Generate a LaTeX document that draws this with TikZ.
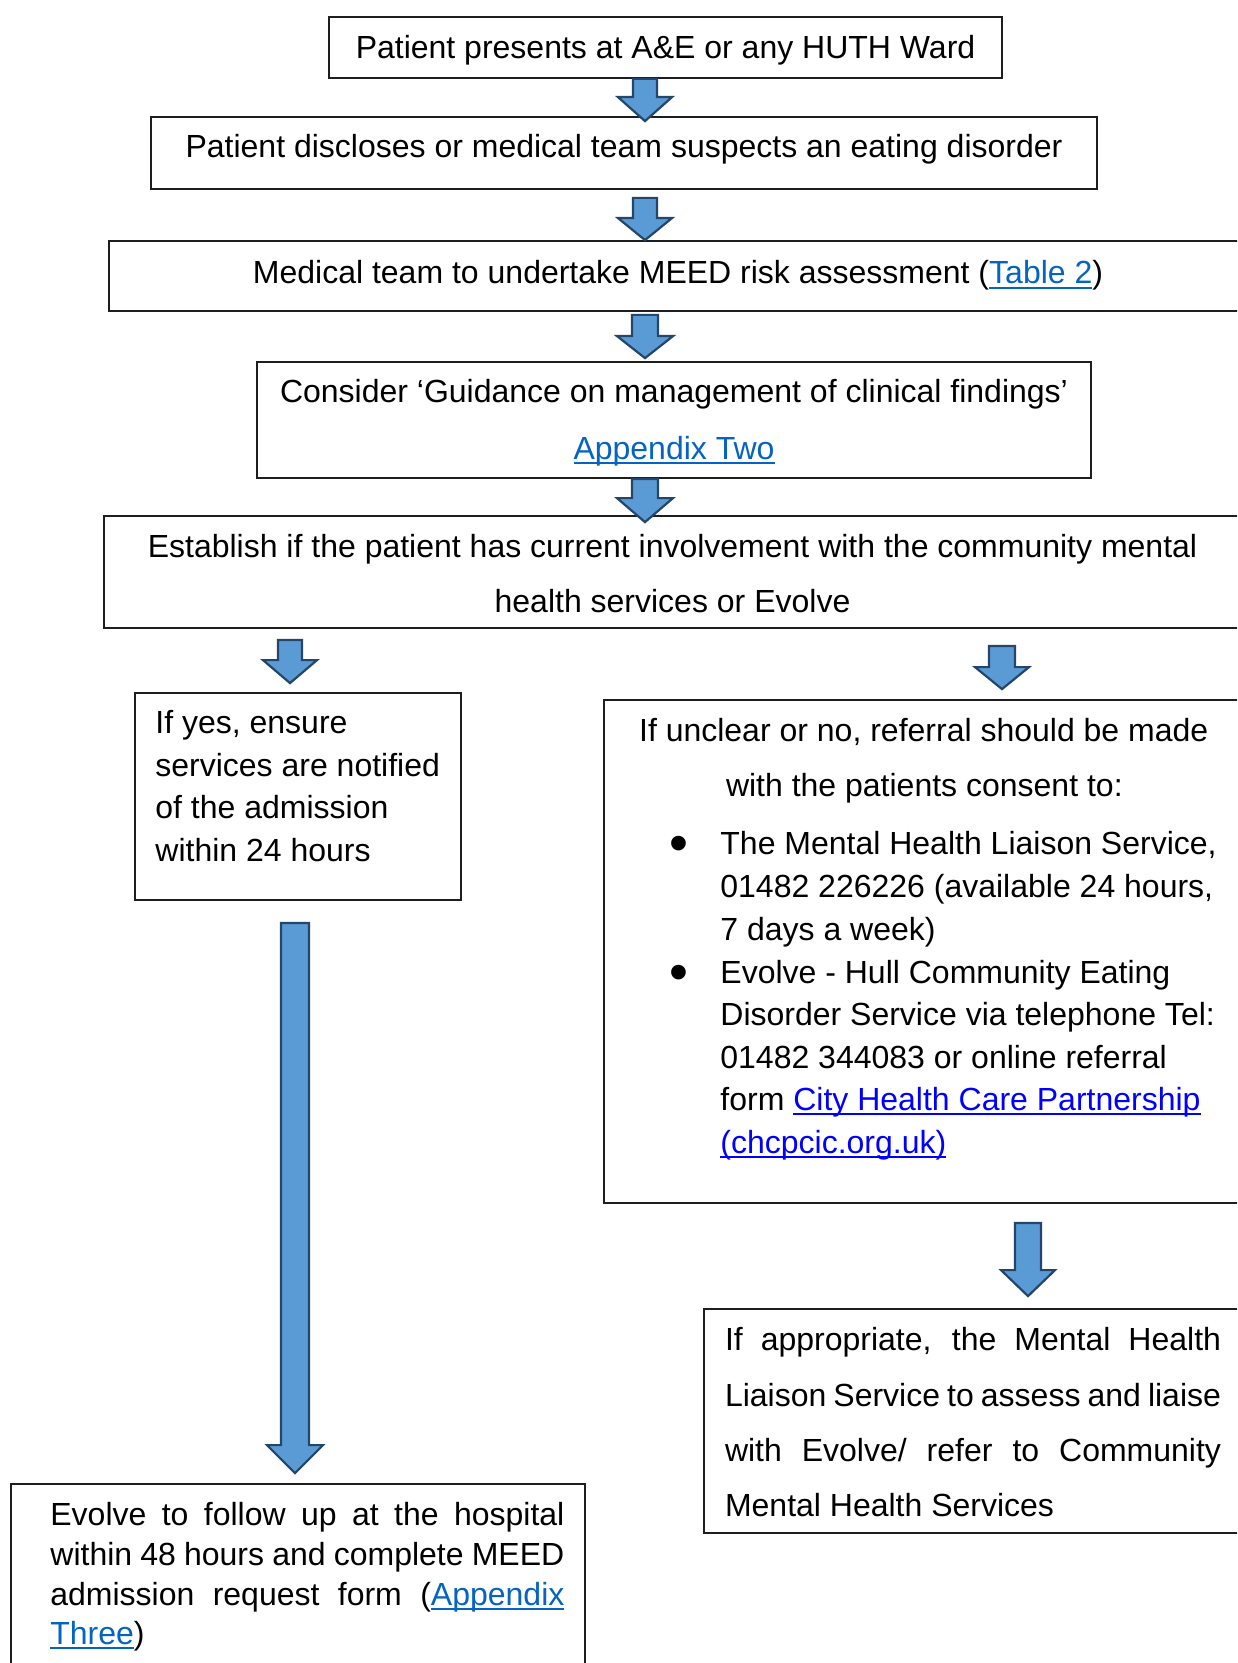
\documentclass[tikz,border=0pt]{standalone}
\usepackage{fontspec}
\setmainfont{Liberation Sans}
\usetikzlibrary{calc,fit}

\definecolor{arrowfill}{HTML}{5B9BD5}
\definecolor{arrowline}{HTML}{24466A}
\definecolor{boxline}{HTML}{1E1E1E}
\definecolor{linkblue}{HTML}{0563C1}
\definecolor{webblue}{HTML}{0000FF}

% underlined link text
\newcommand{\linkline}[1]{\setbox0\hbox{#1}\rlap{\rule[-2.6pt]{\wd0}{0.9pt}}\box0}
\newcommand{\doclink}[1]{{\color{linkblue}\linkline{#1}}}
\newcommand{\weblink}[1]{{\color{webblue}\linkline{#1}}}

% block arrow: #1 top point, #2 tip point, #3 head length, #4 shaft half width, #5 head half width (all in px)
\newcommand{\blockarrow}[5]{%
  \path[blockarrow] let \p1=(#1), \p2=(#2) in
    (\x1-#4*0.5pt,\y1) -- (\x1+#4*0.5pt,\y1)
    -- (\x1+#4*0.5pt,\y2+#3*0.5pt) -- (\x1+#5*0.5pt,\y2+#3*0.5pt)
    -- (\x1,\y2)
    -- (\x1-#5*0.5pt,\y2+#3*0.5pt) -- (\x1-#4*0.5pt,\y2+#3*0.5pt) -- cycle;}

\tikzset{
  x=0.5pt, y=-0.5pt,
  box/.style={draw=boxline, line width=0.9pt, inner sep=0pt, rectangle},
  txt/.style={inner sep=0pt, font=\fontsize{16pt}{21pt}\selectfont},
  txtl/.style={txt, anchor=base west},
  txtc/.style={txt, anchor=base},
  bullet/.style={inner sep=0pt, anchor=center, font=\fontsize{27pt}{27pt}\selectfont},
  blockarrow/.style={fill=arrowfill, draw=arrowline, line width=1.1pt, line join=miter},
}

\begin{document}
\begin{tikzpicture}
\path[use as bounding box, clip] (0,0) rectangle (1237,1663);

% columns the arrows run along
\coordinate (colmain) at (645,0);
\coordinate (colyes) at (290,0);
\coordinate (colno) at (1002,0);
\coordinate (colliaise) at (1028,0);
\coordinate (collong) at (295,0);

% boxes
\node[box, fit={(329,17) (1002,78)}] (b1) {};
\node[box, fit={(151,117) (1097,189)}] (b2) {};
\node[box, fit={(109,241) (1250,311)}] (b3) {};
\node[box, fit={(257,362) (1091,478)}] (b4) {};
\node[box, fit={(104,516) (1242,628)}] (b5) {};
\node[box, fit={(135,693) (461,900)}] (yes) {};
\node[box, fit={(604,700) (1260,1203)}] (no) {};
\node[box, fit={(704,1309) (1260,1533)}] (liaise) {};
\node[box, fit={(11,1484) (585,1700)}] (evolve) {};

% texts
\node[txtc] (t1) at (665.5,59) {Patient presents at A\&E or any HUTH Ward};
\node[txtc] (t2) at (624,158) {Patient discloses or medical team suspects an eating disorder};
\node[txtc] (t3) at (678,284) {Medical team to undertake MEED risk assessment (\doclink{Table 2})};
\node[txtc] (t4a) at (674,403) {Consider ‘Guidance on management of clinical findings’};
\node[txtc] (t4b) at (674,459) {\doclink{Appendix Two}};
\node[txtc] (t5a) at (672.5,557) {Establish if the patient has current involvement with the community mental};
\node[txtc] (t5b) at (672.5,612) {health services or Evolve};

\node[txtl] (y1) at (155,733) {If yes, ensure};
\node[txtl] (y2) at (155,776) {services are notified};
\node[txtl] (y3) at (155,818) {of the admission};
\node[txtl] (y4) at (155,861) {within 24 hours};

\node[txtl] (n1) at (638.7,741) {If unclear or no, referral should be made};
\node[txtl] (n2) at (725.6,796) {with the patients consent to:};
\node[bullet] (bul1) at (679,849) {\textbullet};
\node[txtl] (n3) at (720,854) {The Mental Health Liaison Service,};
\node[txtl] (n4) at (720,897) {01482 226226 (available 24 hours,};
\node[txtl] (n5) at (720,940) {7 days a week)};
\node[bullet] (bul2) at (679,978) {\textbullet};
\node[txtl] (n6) at (720,983) {Evolve - Hull Community Eating};
\node[txtl] (n7) at (720,1025) {Disorder Service via telephone Tel:};
\node[txtl] (n8) at (720,1068) {01482 344083 or online referral};
\node[txtl] (n9) at (720,1110) {form \weblink{City Health Care Partnership}};
\node[txtl] (n10) at (720,1153) {\weblink{(chcpcic.org.uk)}};

\node[txtl] (l1) at (724.6,1350) {\makebox[248pt][s]{If appropriate, the Mental Health}};
\node[txtl] (l2) at (724.6,1406) {\makebox[248pt][s]{Liaison Service to assess and liaise}};
\node[txtl] (l3) at (724.6,1461) {\makebox[248pt][s]{with Evolve/ refer to Community}};
\node[txtl] (l4) at (724.6,1516) {Mental Health Services};

\node[txtl] (e1) at (50,1525) {\makebox[257pt][s]{Evolve to follow up at the hospital}};
\node[txtl] (e2) at (50,1565) {\makebox[257pt][s]{within 48 hours and complete MEED}};
\node[txtl] (e3) at (50,1605) {\makebox[257pt][s]{admission request form (\doclink{Appendix}}};
\node[txtl] (e4) at (50,1644) {\doclink{Three})};

% arrows between the boxes
\blockarrow{$(b1.south -| colmain)$}{$(b2.north -| colmain)+(0,5)$}{24}{12}{27}
\blockarrow{$(b2.south -| colmain)+(0,8)$}{$(b3.north -| colmain)$}{22}{12}{27}
\blockarrow{$(b3.south -| colmain)+(0,3)$}{$(b4.north -| colmain)-(0,3)$}{22}{13}{28}
\blockarrow{$(b4.south -| colmain)$}{$(b5.north -| colmain)+(0,7)$}{24}{13}{28}
\blockarrow{$(b5.south -| colyes)+(0,11)$}{$(yes.north -| colyes)-(0,9)$}{23}{12}{27}
\blockarrow{$(b5.south -| colno)+(0,17)$}{$(no.north -| colno)-(0,10)$}{22}{13}{27}
\blockarrow{$(no.south -| colliaise)+(0,19)$}{$(liaise.north -| colliaise)-(0,12)$}{26}{13}{27}
\blockarrow{$(yes.south -| collong)+(0,22)$}{$(evolve.north -| collong)-(0,10)$}{28}{14}{28}
\end{tikzpicture}
\end{document}
